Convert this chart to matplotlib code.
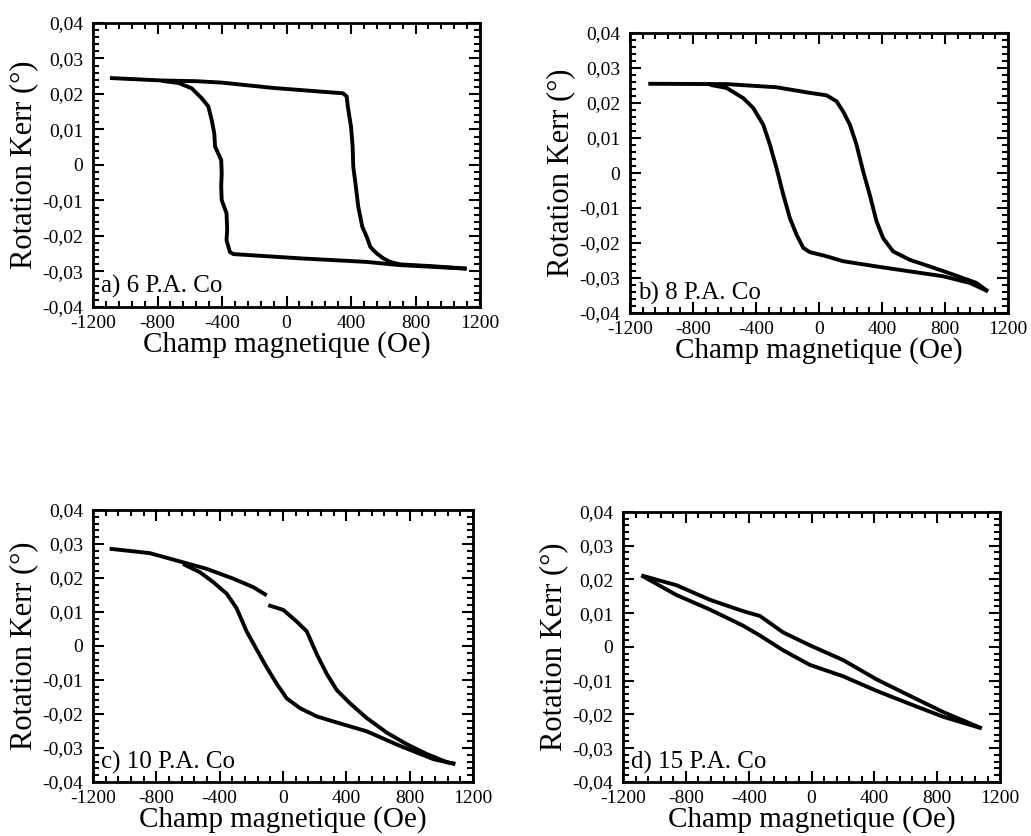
import numpy as np
import matplotlib
matplotlib.use("Agg")
import matplotlib.pyplot as plt
from matplotlib.ticker import FixedLocator, MultipleLocator

plt.rcParams['font.family'] = ['Liberation Serif', 'DejaVu Serif']

# champ (Oe) / rotation Kerr (deg), one loop per sample
# a) 6 P.A. Co
a_up_x = [-1095, -773, -557, -400, -82, 290, 350, 373, 380, 400, 410, 414, 430, 445,
          470, 497, 520, 559, 600, 642, 704, 900, 1117]
a_up_y = [0.0245, 0.0238, 0.0236, 0.0232, 0.0217, 0.0204, 0.0202, 0.0193, 0.0165, 0.0108,
          0.0052, -0.0005, -0.0061, -0.0118, -0.0174, -0.0202, -0.0231, -0.0249, -0.0263,
          -0.0273, -0.0280, -0.0285, -0.0292]
a_dn_x = [1117, 700, 497, 84, -330, -351, -372, -368, -372, -402, -405, -402, -405,
          -443, -448, -464, -485, -526, -588, -670, -773]
a_dn_y = [-0.0292, -0.0282, -0.0273, -0.0263, -0.0251, -0.0245, -0.0212, -0.0183, -0.0136,
          -0.0099, -0.0061, -0.0024, 0.0014, 0.0052, 0.0089, 0.0127, 0.0165, 0.0188,
          0.0216, 0.0231, 0.0237]

# b) 8 P.A. Co
b_up_x = [-1084, -587, -270, -58, 48, 111, 153, 196, 238, 280, 322, 365, 407, 470,
          576, 703, 851, 999, 1073]
b_up_y = [0.0255, 0.0254, 0.0245, 0.0229, 0.0222, 0.0205, 0.0176, 0.0138, 0.0081, 0.0005,
          -0.0062, -0.0138, -0.0186, -0.0224, -0.0248, -0.0267, -0.0290, -0.0314, -0.0338]
b_dn_x = [1073, 957, 788, 576, 365, 153, 48, -58, -100, -143, -185, -227, -270, -312,
          -354, -418, -481, -587, -692]
b_dn_y = [-0.0338, -0.0314, -0.0295, -0.0281, -0.0267, -0.0252, -0.0238, -0.0226, -0.0214,
          -0.0176, -0.0129, -0.0062, 0.0014, 0.0081, 0.0138, 0.0186, 0.0214, 0.0243, 0.0252]

# c) 10 P.A. Co  (upper branch has a small jump near -100 Oe)
c_up1_x = [-1095, -841, -631, -483, -314, -188, -103]
c_up1_y = [0.0286, 0.0273, 0.0246, 0.0227, 0.0198, 0.0173, 0.0149]
c_up2_x = [-93, 2, 86, 150, 213, 276, 340, 424, 529, 656, 782, 909, 1036, 1088]
c_up2_y = [0.0120, 0.0106, 0.0072, 0.0043, -0.0024, -0.0082, -0.0130, -0.0169, -0.0212,
           -0.0255, -0.0289, -0.0318, -0.0342, -0.0347]
c_dn_x = [1088, 951, 740, 529, 318, 213, 108, 23, -40, -103, -167, -230, -293, -356,
          -441, -525, -631]
c_dn_y = [-0.0347, -0.0333, -0.0294, -0.0251, -0.0222, -0.0207, -0.0183, -0.0154, -0.0111,
          -0.0063, -0.0010, 0.0043, 0.0111, 0.0154, 0.0188, 0.0217, 0.0241]

# d) 15 P.A. Co
d_up_x = [-1083, -860, -648, -435, -329, -180, -11, 202, 414, 627, 839, 1083]
d_up_y = [0.0212, 0.0183, 0.0140, 0.0106, 0.0092, 0.0043, 0.0005, -0.0039, -0.0096,
          -0.0145, -0.0193, -0.0241]
d_dn_x = [1083, 839, 627, 414, 202, -11, -180, -329, -435, -648, -860, -1030, -1083]
d_dn_y = [-0.0241, -0.0207, -0.0169, -0.0130, -0.0087, -0.0053, -0.0010, 0.0034, 0.0063,
          0.0111, 0.0154, 0.0198, 0.0212]

x_ticks = [-1200, -800, -400, 0, 400, 800, 1200]
x_labels = ['-1200', '-800', '-400', '0', '400', '800', '1200']
y_ticks = [-0.04, -0.03, -0.02, -0.01, 0, 0.01, 0.02, 0.03, 0.04]
y_labels = ['-0,04', '-0,03', '-0,02', '-0,01', '0', '0,01', '0,02', '0,03', '0,04']

fig = plt.figure(figsize=(10.31, 8.36), dpi=100)

panels = [
    ([0.0902, 0.6328, 0.3754, 0.3397], 'a) 6 P.A. Co',
     [(a_up_x, a_up_y), (a_dn_x, a_dn_y)]),
    ([0.6111, 0.6256, 0.3666, 0.3349], 'b) 8 P.A. Co',
     [(b_up_x, b_up_y), (b_dn_x, b_dn_y)]),
    ([0.0902, 0.0646, 0.3686, 0.3254], 'c) 10 P.A. Co',
     [(c_up1_x, c_up1_y), (c_up2_x, c_up2_y), (c_dn_x, c_dn_y)]),
    ([0.6043, 0.0646, 0.3657, 0.3230], 'd) 15 P.A. Co',
     [(d_up_x, d_up_y), (d_dn_x, d_dn_y)]),
]

for rect, name, curves in panels:
    ax = fig.add_axes(rect)
    for xs, ys in curves:
        ax.plot(xs, ys, color='black', lw=2.8, solid_capstyle='butt')
    ax.set_xlim(-1200, 1200)
    ax.set_ylim(-0.04, 0.04)
    ax.xaxis.set_major_locator(FixedLocator(x_ticks))
    ax.set_xticklabels(x_labels)
    ax.yaxis.set_major_locator(FixedLocator(y_ticks))
    ax.set_yticklabels(y_labels)
    ax.xaxis.set_minor_locator(MultipleLocator(80))
    ax.yaxis.set_minor_locator(MultipleLocator(0.002))
    ax.tick_params(which='both', direction='in', top=True, right=True,
                   labelsize=14, width=1.5)
    ax.tick_params(axis='x', pad=6)
    ax.tick_params(axis='y', pad=7)
    ax.tick_params(which='major', length=8)
    ax.tick_params(which='minor', length=4)
    for s in ax.spines.values():
        s.set_linewidth(2)
    ax.set_xlabel('Champ magnetique (Oe)', fontsize=21, labelpad=-1)
    ax.set_ylabel('Rotation Kerr (°)', fontsize=22, labelpad=3)
    ax.text(0.02, 0.03, name, transform=ax.transAxes, fontsize=18,
            ha='left', va='bottom')

fig.savefig('out.png', dpi=100)
